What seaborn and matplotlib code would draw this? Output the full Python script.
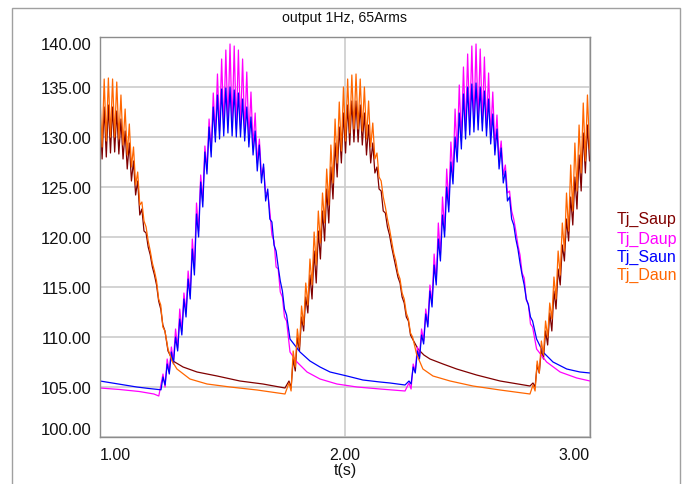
import numpy as np
import pandas as pd
import matplotlib
matplotlib.use("Agg")
import matplotlib.pyplot as plt
import seaborn as sns
from matplotlib.patches import Rectangle
from matplotlib.ticker import FormatStrFormatter

# ---------------- data ----------------
TITLE = "output 1Hz, 65Arms"
X_LABEL = "t(s)"
SERIES = ["Tj_Saup", "Tj_Daup", "Tj_Saun", "Tj_Daun"]
COLORS = ["#800000", "#ff00ff", "#0000ff", "#ff6600"]
Y_TICKS = [100, 105, 110, 115, 120, 125, 130, 135, 140]
X_TICKS = [1.0, 2.0, 3.0]
RIPPLE_PERIOD = 0.0171  # s, spacing of the switching ripple crests

# Tj_Saun (blue)
saun_cool_a_t = [1.0, 1.05, 1.1, 1.15, 1.2, 1.249]
saun_cool_a_v = [105.6, 105.4, 105.2, 105.0, 104.85, 104.72]
saun_heat_1_t0 = 1.2571
saun_heat_1_crest = [106.0, 107.3, 108.5, 110.0, 111.8, 113.8, 115.8, 118.8, 122.3, 125.5,
                     128.5, 131.0, 133.0, 134.2, 134.8, 134.9, 135.0, 134.7, 134.4, 133.8,
                     133.0, 132.0, 130.6, 129.2, 127.3, 124.8, 121.5, 118.6, 115.6, 112.8]
saun_heat_1_trough = [105.2, 106.3, 107.3, 108.6, 110.2, 112.0, 113.8, 116.2, 120.0, 123.0,
                      126.3, 128.0, 129.5, 129.8, 130.1, 130.4, 130.1, 130.0, 130.0, 129.6,
                      129.0, 128.2, 126.6, 125.4, 123.6, 121.8, 119.2, 117.0, 114.6, 112.2]
saun_cool_b_t = [1.7755, 1.8163, 1.857, 1.898, 1.939, 2.008, 2.073, 2.143, 2.184, 2.245]
saun_cool_b_v = [109.8, 108.5, 107.6, 107.0, 106.5, 106.1, 105.7, 105.5, 105.4, 105.2]
saun_heat_2_t0 = 2.2612
saun_heat_2_crest = [105.6, 107.0, 108.6, 110.2, 112.3, 114.6, 117.2, 119.8, 122.2, 125.0,
                     127.5, 130.0, 132.4, 134.3, 135.0, 135.3, 135.4, 135.0, 134.6, 133.8,
                     132.3, 130.8, 128.9, 126.6, 124.0, 121.2, 118.8, 116.2, 113.8, 112.0]
saun_heat_2_trough = [105.3, 106.4, 107.8, 109.3, 111.0, 113.0, 115.2, 117.6, 120.0, 122.5,
                      125.3, 127.5, 128.8, 129.8, 130.2, 130.5, 130.7, 130.6, 130.1, 129.3,
                      128.2, 126.8, 125.4, 123.6, 121.8, 119.8, 117.4, 115.2, 113.2, 111.6]
saun_cool_c_t = [2.782, 2.808, 2.849, 2.905, 2.959, 3.0]
saun_cool_c_v = [109.8, 108.5, 107.5, 106.8, 106.5, 106.4]

# Tj_Daup (magenta)
daup_cool_a_t = [1.0, 1.08, 1.16, 1.22, 1.24]
daup_cool_a_v = [104.9, 104.75, 104.55, 104.3, 104.1]
daup_heat_1_t0 = 1.2571
daup_heat_1_crest = [106.3, 107.8, 109.0, 110.8, 112.8, 114.4, 116.6, 119.8, 123.4, 126.2,
                     129.1, 131.8, 134.4, 136.3, 137.8, 138.7, 139.3, 139.1, 138.7, 137.8,
                     136.5, 134.5, 132.4, 129.8, 127.0, 124.4, 120.2, 117.0, 114.5, 112.0]
daup_heat_1_trough = [105.0, 106.5, 107.6, 108.9, 110.6, 112.5, 114.2, 116.8, 120.6, 123.6,
                      126.8, 128.6, 130.2, 130.6, 130.9, 131.2, 131.0, 130.8, 130.8, 130.4,
                      129.8, 129.0, 127.4, 126.2, 124.4, 122.6, 119.6, 116.8, 114.0, 111.6]
daup_cool_b_t = [1.7755, 1.804, 1.845, 1.898, 1.967, 2.049, 2.143, 2.245]
daup_cool_b_v = [108.5, 107.5, 106.5, 105.8, 105.3, 105.0, 104.8, 104.6]
daup_heat_2_t0 = 2.2612
daup_heat_2_crest = [105.4, 107.3, 109.0, 110.8, 112.8, 115.2, 118.3, 121.4, 124.0, 126.8,
                     129.5, 132.8, 135.2, 137.0, 138.3, 139.1, 139.3, 138.8, 138.0, 136.4,
                     134.5, 132.2, 129.6, 127.2, 124.6, 121.8, 119.2, 116.4, 113.7, 111.3]
daup_heat_2_trough = [104.8, 106.6, 108.0, 109.6, 111.3, 113.4, 115.6, 118.2, 120.6, 123.2,
                      126.0, 128.2, 129.6, 130.6, 131.0, 131.3, 131.5, 131.4, 130.9, 130.1,
                      129.0, 127.6, 126.2, 124.4, 122.6, 120.6, 118.2, 115.9, 113.3, 111.0]
daup_cool_c_t = [2.782, 2.823, 2.878, 2.946, 3.0]
daup_cool_c_v = [108.8, 107.5, 106.5, 105.9, 105.6]

# Tj_Saup (dark red)
saup_heat_0_t0 = 1.0
saup_heat_0_crest = [132.0, 133.0, 133.2, 133.0, 132.6, 131.8, 130.6, 129.4, 127.6, 125.6,
                     122.8, 120.4, 118.2, 116.2, 113.6, 111.2]
saup_heat_0_trough = [127.8, 128.0, 128.4, 128.5, 128.3, 127.8, 126.8, 125.6, 124.2, 122.2,
                      120.6, 119.0, 117.0, 115.2, 112.8, 110.6]
saup_cool_a_t = [1.2776, 1.298, 1.339, 1.396, 1.478, 1.571, 1.665, 1.755]
saup_cool_a_v = [108.6, 107.6, 107.0, 106.5, 106.1, 105.6, 105.3, 104.9]
saup_heat_1_t0 = 1.7714
saup_heat_1_crest = [105.6, 107.8, 110.0, 112.0, 114.0, 116.2, 118.6, 120.6, 122.6, 124.8,
                     127.0, 129.4, 131.0, 132.4, 133.2, 133.6, 133.6, 133.2, 132.4, 131.2,
                     129.4, 127.0, 124.6, 122.4, 120.2, 118.0, 116.0, 114.0, 112.0, 110.2]
saup_heat_1_trough = [104.9, 106.6, 108.6, 110.6, 112.4, 113.8, 115.4, 117.8, 119.6, 121.4,
                      123.8, 126.0, 127.4, 128.4, 129.2, 129.5, 129.5, 129.2, 128.2, 127.4,
                      126.4, 124.8, 122.6, 121.0, 119.0, 117.0, 115.4, 113.4, 111.6, 109.8]
saup_cool_b_t = [2.298, 2.322, 2.347, 2.4, 2.4559, 2.537, 2.633, 2.694, 2.755]
saup_cool_b_v = [108.8, 108.2, 107.8, 107.3, 106.8, 106.2, 105.6, 105.35, 105.1]
saup_heat_2_t0 = 2.7673
saup_heat_2_crest = [105.4, 107.2, 108.8, 110.6, 112.4, 114.6, 116.8, 119.2, 121.8, 124.0,
                     126.0, 128.2, 130.4, 131.2]
saup_heat_2_trough = [105.0, 106.4, 107.8, 109.2, 110.6, 112.8, 115.2, 117.6, 119.6, 121.2,
                      122.8, 124.6, 126.4, 127.6]

# Tj_Daun (orange)
daun_heat_0_t0 = 1.0
daun_heat_0_crest = [134.0, 135.8, 135.9, 135.8, 135.5, 134.2, 132.8, 131.3, 129.0, 126.5,
                     123.5, 121.0, 118.6, 116.6, 113.8, 111.0]
daun_heat_0_trough = [129.0, 129.6, 130.0, 130.0, 129.8, 129.2, 128.2, 127.0, 125.2, 123.2,
                      121.6, 119.6, 117.4, 115.6, 113.2, 110.6]
daun_cool_a_t = [1.2776, 1.294, 1.314, 1.367, 1.437, 1.531, 1.641, 1.755]
daun_cool_a_v = [108.8, 107.6, 106.8, 105.8, 105.3, 105.0, 104.7, 104.3]
daun_heat_1_t0 = 1.7714
daun_heat_1_crest = [105.4, 108.6, 110.8, 113.1, 115.4, 117.8, 120.5, 122.6, 124.4, 126.8,
                     129.2, 131.8, 133.5, 135.0, 135.8, 136.2, 136.3, 135.8, 135.0, 133.6,
                     131.4, 128.4, 125.6, 123.0, 120.8, 118.4, 116.4, 114.4, 112.4, 110.4]
daun_heat_1_trough = [104.6, 107.0, 109.0, 111.2, 113.2, 115.2, 117.2, 119.4, 121.4, 123.2,
                      125.4, 127.4, 128.6, 129.6, 130.4, 130.8, 130.8, 130.6, 129.8, 129.0,
                      127.8, 126.0, 124.0, 121.8, 119.6, 117.6, 115.8, 113.8, 111.8, 110.0]
daun_cool_b_t = [2.292, 2.318, 2.359, 2.429, 2.522, 2.633, 2.755]
daun_cool_b_v = [108.3, 106.8, 106.1, 105.6, 105.1, 104.7, 104.3]
daun_heat_2_t0 = 2.7673
daun_heat_2_crest = [105.2, 107.6, 109.6, 111.6, 113.4, 116.0, 118.6, 121.4, 124.4, 127.2,
                     129.4, 131.2, 133.4, 134.2]
daun_heat_2_trough = [104.6, 106.4, 108.2, 110.0, 111.8, 113.8, 116.2, 118.6, 120.6, 122.6,
                      124.6, 126.4, 127.6, 128.8]


# ---------------- assemble series ----------------
def ripple(t0, crest, trough):
    tc = t0 + RIPPLE_PERIOD * np.arange(len(crest))
    tt = tc + RIPPLE_PERIOD / 2
    t = np.empty(2 * len(crest))
    v = np.empty(2 * len(crest))
    t[0::2], t[1::2] = tc, tt
    v[0::2], v[1::2] = crest, trough
    return t, v


def knots(t, v):
    return np.asarray(t, float), np.asarray(v, float)


parts = {
    "Tj_Saup": [ripple(saup_heat_0_t0, saup_heat_0_crest, saup_heat_0_trough),
                knots(saup_cool_a_t, saup_cool_a_v),
                ripple(saup_heat_1_t0, saup_heat_1_crest, saup_heat_1_trough),
                knots(saup_cool_b_t, saup_cool_b_v),
                ripple(saup_heat_2_t0, saup_heat_2_crest, saup_heat_2_trough)],
    "Tj_Daup": [knots(daup_cool_a_t, daup_cool_a_v),
                ripple(daup_heat_1_t0, daup_heat_1_crest, daup_heat_1_trough),
                knots(daup_cool_b_t, daup_cool_b_v),
                ripple(daup_heat_2_t0, daup_heat_2_crest, daup_heat_2_trough),
                knots(daup_cool_c_t, daup_cool_c_v)],
    "Tj_Saun": [knots(saun_cool_a_t, saun_cool_a_v),
                ripple(saun_heat_1_t0, saun_heat_1_crest, saun_heat_1_trough),
                knots(saun_cool_b_t, saun_cool_b_v),
                ripple(saun_heat_2_t0, saun_heat_2_crest, saun_heat_2_trough),
                knots(saun_cool_c_t, saun_cool_c_v)],
    "Tj_Daun": [ripple(daun_heat_0_t0, daun_heat_0_crest, daun_heat_0_trough),
                knots(daun_cool_a_t, daun_cool_a_v),
                ripple(daun_heat_1_t0, daun_heat_1_crest, daun_heat_1_trough),
                knots(daun_cool_b_t, daun_cool_b_v),
                ripple(daun_heat_2_t0, daun_heat_2_crest, daun_heat_2_trough)],
}

frames = []
for name in SERIES:
    t = np.concatenate([p[0] for p in parts[name]])
    v = np.concatenate([p[1] for p in parts[name]])
    frames.append(pd.DataFrame({"t": t, "Tj": v, "series": name}))
df = pd.concat(frames, ignore_index=True)

# ---------------- plot ----------------
sns.set_theme(style="white")
plt.rcParams["font.family"] = ["Liberation Sans", "DejaVu Sans"]

W, H = 698, 485
fig = plt.figure(figsize=(W / 100, H / 100), dpi=100)
ax = fig.add_axes([100 / W, 1 - 438 / H, 490 / W, 400 / H])

for name, col in zip(SERIES, COLORS):
    sns.lineplot(data=df[df["series"] == name], x="t", y="Tj", color=col,
                 linewidth=0.9, estimator=None, sort=False, ax=ax, legend=False)

ax.set_xlim(X_TICKS[0], X_TICKS[-1])
ax.set_ylim(Y_TICKS[0], Y_TICKS[-1])
ax.set_xticks(X_TICKS)
ax.set_yticks(Y_TICKS)
ax.xaxis.set_major_formatter(FormatStrFormatter("%.2f"))
ax.yaxis.set_major_formatter(FormatStrFormatter("%.2f"))
ax.grid(True, color="#cccccc", linewidth=1.2)
ax.set_axisbelow(True)
for s in ax.spines.values():
    s.set_color("#8c8c8c")
    s.set_linewidth(1.0)
ax.tick_params(axis="y", direction="out", length=5, width=1.0, color="#555555",
               labelsize=12, pad=1, labelcolor="#111111")
ax.tick_params(axis="x", direction="out", length=5.5, width=1.0, color="#555555",
               labelsize=11.5, pad=1.5, labelcolor="#111111")
ax.set_xlabel(X_LABEL, fontsize=11.5, labelpad=0, color="#111111")
ax.set_ylabel("")

fig.canvas.draw()
for lbl in ax.get_yticklabels():
    if lbl.get_text() == "140.00":
        lbl.set_va("top")
    elif lbl.get_text() == "100.00":
        lbl.set_va("bottom")
xl = ax.get_xticklabels()
xl[0].set_ha("left")
xl[-1].set_ha("right")

fig.text(345 / W, 1 - 18 / H, TITLE, ha="center", va="center", fontsize=10.2, color="#111111")

legend_y = [219, 239, 257, 275]
for name, col, yy in zip(SERIES, COLORS, legend_y):
    fig.text(617 / W, 1 - yy / H, name, color=col, fontsize=11.5, ha="left", va="center")

fig.patches.append(Rectangle((12 / W, -0.1), (680 - 12) / W, 1.1 - 9 / H,
                             transform=fig.transFigure, fill=False,
                             edgecolor="#a0a0a0", linewidth=1.0))

fig.savefig("out.png", dpi=100)
